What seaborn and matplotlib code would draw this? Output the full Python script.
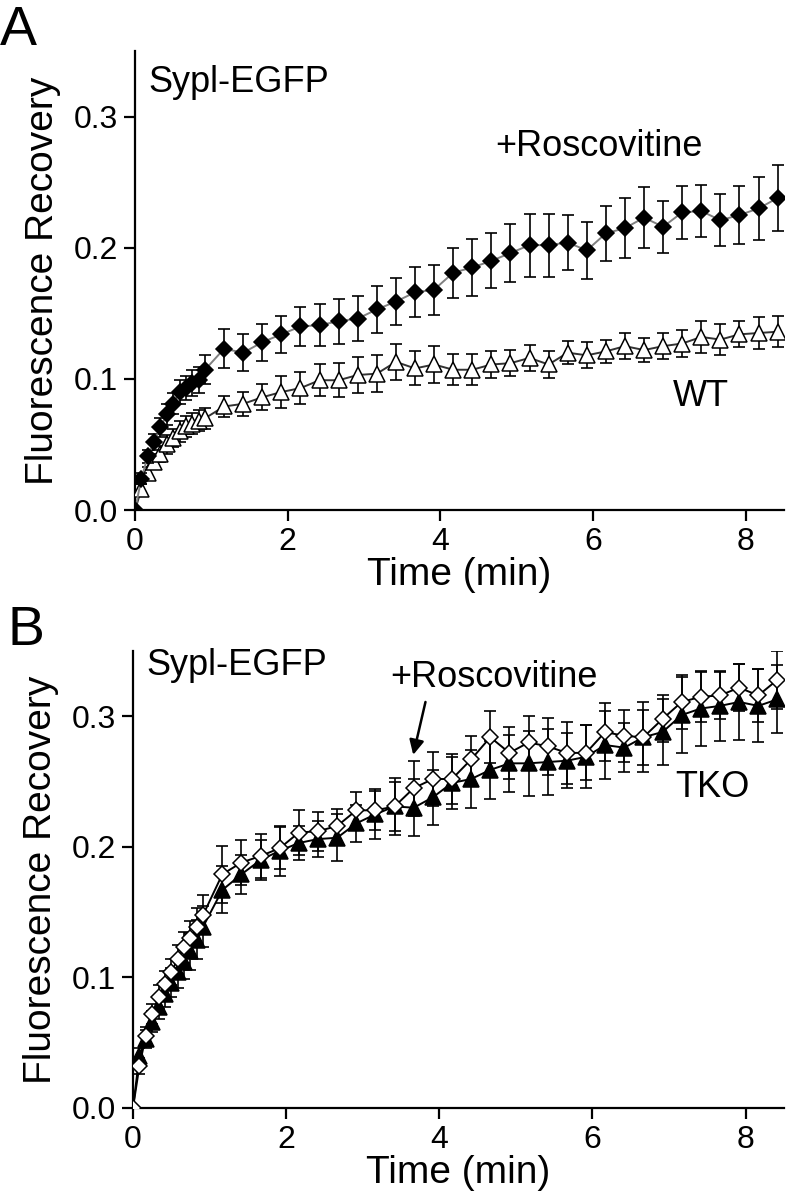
import matplotlib
matplotlib.use("Agg")
import matplotlib.pyplot as plt
import seaborn as sns
import pandas as pd

# sampling times (s): every 5 s for the first minute, then every 15 s
time_sec = [0, 5, 10, 15, 20, 25, 30, 35, 40, 45, 50, 55,
            70, 85, 100, 115, 130, 145, 160, 175, 190, 205, 220, 235,
            250, 265, 280, 295, 310, 325, 340, 355, 370, 385, 400, 415,
            430, 445, 460, 475, 490, 505]

# panel A: WT synapses, control vs +Roscovitine
a_rosc = [0.000, 0.024, 0.041, 0.052, 0.063, 0.073, 0.081, 0.090, 0.093, 0.097, 0.099, 0.107,
          0.123, 0.120, 0.128, 0.134, 0.140, 0.141, 0.144, 0.146, 0.153, 0.159, 0.166, 0.168,
          0.181, 0.185, 0.190, 0.196, 0.202, 0.202, 0.204, 0.198, 0.211, 0.215, 0.223, 0.216,
          0.227, 0.228, 0.221, 0.225, 0.230, 0.238]
a_rosc_err = [0.000, 0.004, 0.005, 0.006, 0.007, 0.008, 0.008, 0.009, 0.009, 0.010, 0.010, 0.011,
              0.015, 0.014, 0.014, 0.014, 0.015, 0.016, 0.017, 0.017, 0.018, 0.018, 0.019, 0.019,
              0.019, 0.022, 0.021, 0.022, 0.024, 0.024, 0.021, 0.022, 0.021, 0.023, 0.023, 0.020,
              0.020, 0.020, 0.020, 0.022, 0.024, 0.025]
a_wt = [0.000, 0.016, 0.028, 0.037, 0.043, 0.050, 0.055, 0.060, 0.064, 0.066, 0.068, 0.070,
        0.079, 0.081, 0.086, 0.090, 0.093, 0.099, 0.099, 0.103, 0.104, 0.113, 0.108, 0.111,
        0.107, 0.107, 0.111, 0.112, 0.116, 0.111, 0.120, 0.118, 0.121, 0.125, 0.122, 0.125,
        0.127, 0.132, 0.130, 0.134, 0.135, 0.136]
a_wt_err = [0.000, 0.004, 0.005, 0.006, 0.006, 0.007, 0.007, 0.008, 0.008, 0.008, 0.008, 0.008,
            0.008, 0.009, 0.010, 0.012, 0.012, 0.012, 0.013, 0.014, 0.014, 0.014, 0.013, 0.014,
            0.012, 0.012, 0.010, 0.010, 0.010, 0.010, 0.009, 0.010, 0.009, 0.010, 0.009, 0.010,
            0.010, 0.012, 0.012, 0.010, 0.012, 0.012]

# panel B: TKO synapses, control vs +Roscovitine
b_rosc = [0.000, 0.032, 0.055, 0.072, 0.085, 0.095, 0.104, 0.114, 0.123, 0.130, 0.139, 0.148,
          0.179, 0.188, 0.193, 0.199, 0.211, 0.212, 0.216, 0.228, 0.228, 0.231, 0.245, 0.252,
          0.252, 0.267, 0.284, 0.272, 0.280, 0.277, 0.272, 0.272, 0.288, 0.285, 0.284, 0.298,
          0.311, 0.315, 0.316, 0.322, 0.316, 0.328]
b_rosc_err = [0.000, 0.006, 0.007, 0.008, 0.009, 0.010, 0.010, 0.011, 0.012, 0.013, 0.014, 0.015,
              0.022, 0.017, 0.017, 0.016, 0.017, 0.015, 0.013, 0.014, 0.015, 0.019, 0.021, 0.021,
              0.019, 0.018, 0.020, 0.020, 0.020, 0.022, 0.024, 0.021, 0.022, 0.020, 0.027, 0.018,
              0.021, 0.019, 0.018, 0.018, 0.020, 0.022]
b_tko = [0.000, 0.040, 0.053, 0.066, 0.077, 0.087, 0.096, 0.104, 0.112, 0.120, 0.129, 0.139,
         0.167, 0.179, 0.190, 0.197, 0.203, 0.206, 0.207, 0.218, 0.225, 0.231, 0.230, 0.238,
         0.249, 0.252, 0.259, 0.264, 0.264, 0.265, 0.266, 0.269, 0.278, 0.276, 0.284, 0.288,
         0.301, 0.306, 0.308, 0.311, 0.308, 0.313]
b_tko_err = [0.000, 0.006, 0.007, 0.008, 0.009, 0.010, 0.011, 0.012, 0.013, 0.014, 0.015, 0.016,
             0.018, 0.015, 0.015, 0.019, 0.013, 0.014, 0.018, 0.014, 0.019, 0.022, 0.022, 0.021,
             0.020, 0.022, 0.022, 0.022, 0.025, 0.025, 0.021, 0.024, 0.026, 0.019, 0.021, 0.025,
             0.029, 0.029, 0.027, 0.029, 0.028, 0.026]

y_ticks = [0.0, 0.1, 0.2, 0.3]
x_ticks = [0, 2, 4, 6, 8]

sns.set_style("ticks")
plt.rcParams['font.family'] = ['Liberation Sans', 'DejaVu Sans']
plt.rcParams.update({
    'axes.linewidth': 1.6,
    'axes.edgecolor': 'black',
    'axes.labelcolor': 'black',
    'text.color': 'black',
    'xtick.color': 'black',
    'ytick.color': 'black',
})

time_min = [t / 60 for t in time_sec]


def draw_series(ax, y, err, marker, face, line_color, ms, z):
    df = pd.DataFrame({"time": time_min, "value": y})
    ax.errorbar(time_min, y, yerr=err, fmt='none', ecolor='black',
                elinewidth=1.2, capsize=4.5, capthick=1.2, zorder=z)
    sns.lineplot(data=df, x="time", y="value", ax=ax, color=line_color,
                 linewidth=1.4, marker=marker, markersize=ms,
                 markerfacecolor=face, markeredgecolor='black',
                 markeredgewidth=1.1, zorder=z + 1)


def style_axes(ax):
    ax.set_xlim(0, 8.5)
    ax.set_ylim(0, 0.35)
    ax.set_xticks(x_ticks)
    ax.set_yticks(y_ticks)
    ax.set_yticklabels([f"{v:.1f}" for v in y_ticks])
    ax.tick_params(axis='both', labelsize=23, length=8, width=1.6, direction='out', pad=4)
    ax.set_xlabel("Time (min)", fontsize=28, labelpad=0)
    ax.set_ylabel("Fluorescence Recovery", fontsize=28, labelpad=9)
    sns.despine(ax=ax)


fig = plt.figure(figsize=(7.86, 11.99), dpi=100)
ax_a = fig.add_axes([0.1718, 0.5746, 0.8257, 0.3828])
ax_b = fig.add_axes([0.1692, 0.0759, 0.8280, 0.3811])

# panel A
draw_series(ax_a, a_wt, a_wt_err, '^', 'white', '#333333', 11, 2)
draw_series(ax_a, a_rosc, a_rosc_err, 'D', 'black', '#808080', 8.5, 4)
style_axes(ax_a)
ax_a.text(0.17, 0.319, "Sypl-EGFP", fontsize=26, va='baseline', ha='left')
ax_a.text(4.72, 0.270, "+Roscovitine", fontsize=26, va='baseline', ha='left')
ax_a.text(7.04, 0.079, "WT", fontsize=26, va='baseline', ha='left')

# panel B
draw_series(ax_b, b_tko, b_tko_err, '^', 'black', 'black', 11, 2)
draw_series(ax_b, b_rosc, b_rosc_err, 'D', 'white', 'black', 8.5, 4)
style_axes(ax_b)
ax_b.text(0.18, 0.332, "Sypl-EGFP", fontsize=26, va='baseline', ha='left')
ax_b.text(3.36, 0.3226, "+Roscovitine", fontsize=26, va='baseline', ha='left')
ax_b.text(7.08, 0.238, "TKO", fontsize=26, va='baseline', ha='left')
ax_b.annotate("", xy=(3.66, 0.2705), xytext=(3.82, 0.311),
              arrowprops=dict(arrowstyle='-|>', color='black', lw=1.8,
                              mutation_scale=22, shrinkA=0, shrinkB=0))

fig.text(0.0, 1 - 45 / 1199, "A", fontsize=40, va='baseline', ha='left')
fig.text(7 / 786, 1 - 645 / 1199, "B", fontsize=40, va='baseline', ha='left')

fig.savefig("out.png", dpi=100)
